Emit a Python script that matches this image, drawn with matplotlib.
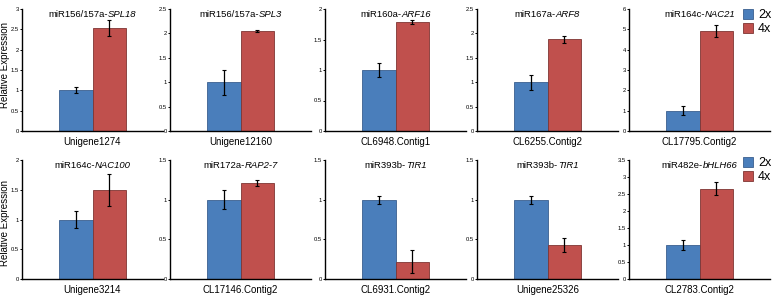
import matplotlib
matplotlib.use("Agg")
import matplotlib.pyplot as plt
from matplotlib.offsetbox import TextArea, HPacker, AnchoredOffsetbox

plt.rcParams['font.family'] = ['Liberation Sans', 'DejaVu Sans']

mirnas = ["miR156/157a-", "miR156/157a-", "miR160a-", "miR167a-", "miR164c-",
          "miR164c-", "miR172a-", "miR393b-", "miR393b-", "miR482e-"]
genes = ["SPL18", "SPL3", "ARF16", "ARF8", "NAC21",
         "NAC100", "RAP2-7", "TIR1", "TIR1", "bHLH66"]
contigs = ["Unigene1274", "Unigene12160", "CL6948.Contig1", "CL6255.Contig2", "CL17795.Contig2",
           "Unigene3214", "CL17146.Contig2", "CL6931.Contig2", "Unigene25326", "CL2783.Contig2"]
vals_2x = [1.0, 1.0, 1.0, 1.0, 1.0, 1.0, 1.0, 1.0, 1.0, 1.0]
err_2x = [0.07, 0.26, 0.11, 0.15, 0.22, 0.15, 0.12, 0.05, 0.05, 0.14]
vals_4x = [2.53, 2.05, 1.79, 1.88, 4.90, 1.49, 1.21, 0.22, 0.43, 2.66]
err_4x = [0.20, 0.02, 0.03, 0.07, 0.30, 0.27, 0.04, 0.14, 0.09, 0.20]
ymax = [3, 2.5, 2, 2.5, 6, 2, 1.5, 1.5, 1.5, 3.5]
ystep = [0.5, 0.5, 0.5, 0.5, 1, 0.5, 0.5, 0.5, 0.5, 0.5]
series = ["2x", "4x"]

c2 = "#4a7ebb"
c4 = "#c0504d"

W, H = 780, 297
fig = plt.figure(figsize=(W / 100, H / 100), dpi=100)

lefts = [22, 170, 325, 477, 629]
width = 141
rows = [(9, 131), (160, 279)]
ylabel_centers = [65, 223]

def fmt(v):
    s = ("%.1f" % v)
    return s[:-2] if s.endswith(".0") else s

handles = None
for i in range(10):
    r, c = divmod(i, 5)
    top, bot = rows[r]
    ax = fig.add_axes([lefts[c] / W, 1 - bot / H, width / W, (bot - top) / H])
    bw = 0.48
    b1 = ax.bar(-bw / 2, vals_2x[i], bw, yerr=err_2x[i], color=c2, edgecolor="#3a5f8f",
                linewidth=0.6, capsize=1.2, error_kw=dict(elinewidth=0.9, capthick=0.8, ecolor="black"))
    b2 = ax.bar(bw / 2, vals_4x[i], bw, yerr=err_4x[i], color=c4, edgecolor="#7f3533",
                linewidth=0.6, capsize=1.2, error_kw=dict(elinewidth=0.9, capthick=0.8, ecolor="black"))
    if handles is None:
        handles = [b1, b2]
    ax.set_xlim(-1, 1)
    ax.set_ylim(0, ymax[i])
    n = int(round(ymax[i] / ystep[i]))
    ticks = [k * ystep[i] for k in range(n + 1)]
    ax.set_yticks(ticks)
    ax.set_yticklabels([fmt(t) for t in ticks])
    ax.tick_params(axis='y', labelsize=4.2, length=1.5, width=0.7, pad=0.6)
    ax.set_xticks([0])
    ax.set_xticklabels([contigs[i]])
    ax.tick_params(axis='x', labelsize=7, length=0, pad=4)
    for s in ("top", "right"):
        ax.spines[s].set_visible(False)
    for s in ("left", "bottom"):
        ax.spines[s].set_linewidth(1.0)
    t1 = TextArea(mirnas[i], textprops=dict(fontsize=6.8))
    t2 = TextArea(genes[i], textprops=dict(fontsize=6.8, style="italic"))
    box = HPacker(children=[t1, t2], align="baseline", pad=0, sep=0)
    ab = AnchoredOffsetbox(loc="center", child=box, frameon=False, pad=0, borderpad=0,
                           bbox_to_anchor=(0.5, 0.955), bbox_transform=ax.transAxes)
    ax.add_artist(ab)

for yc in ylabel_centers:
    fig.text(5.5 / W, 1 - yc / H, "Relative Expression", rotation=90,
             ha="center", va="center", fontsize=7)

for ytop in (9, 157):
    fig.legend(handles, series, loc="upper left",
               bbox_to_anchor=(743 / W, 1 - ytop / H), frameon=False,
               fontsize=9, handlelength=0.8, handleheight=0.8,
               handletextpad=0.4, labelspacing=0.15, borderpad=0, borderaxespad=0)

fig.savefig("out.png", dpi=100)
